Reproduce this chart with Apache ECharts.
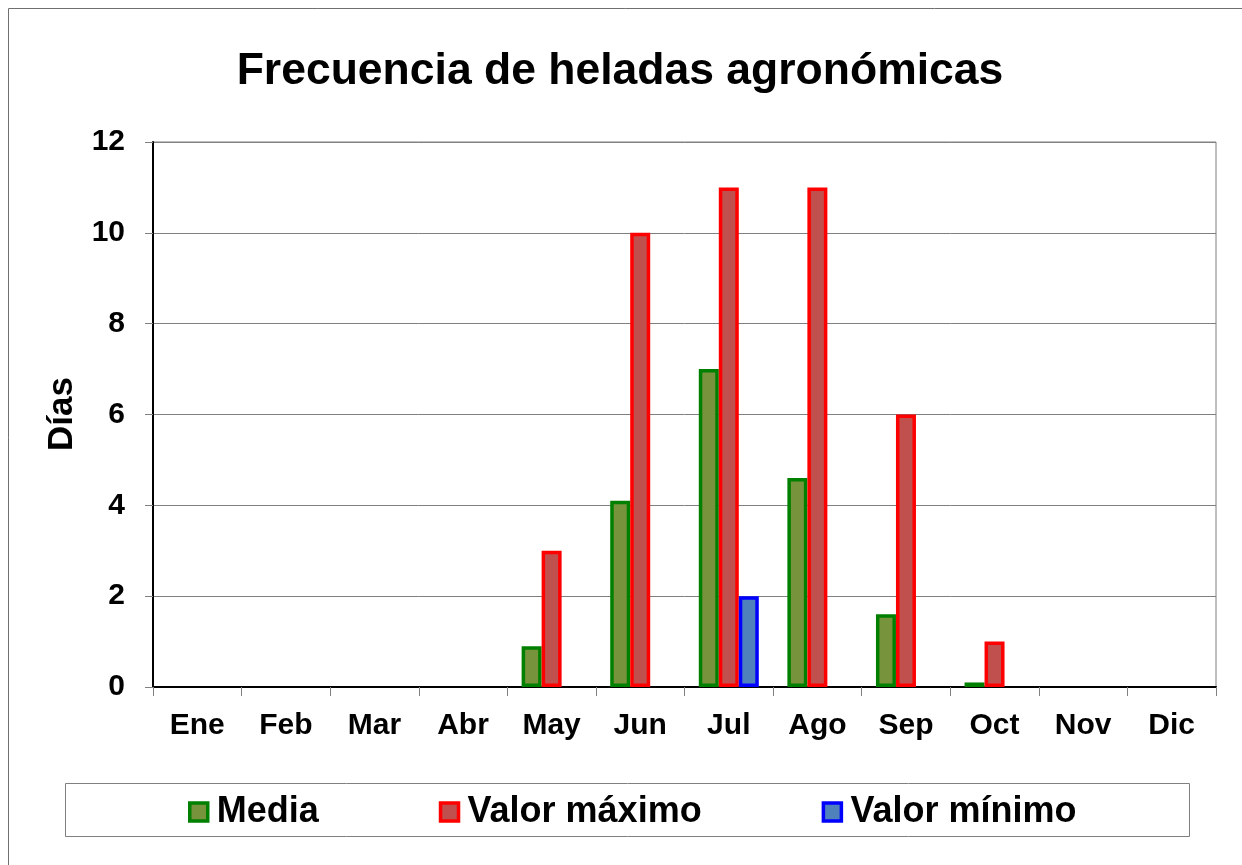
<!DOCTYPE html>
<html>
<head>
<meta charset="utf-8">
<script src="https://cdn.jsdelivr.net/npm/echarts@6/dist/echarts.min.js"></script>
<style>
html,body{margin:0;padding:0;background:#fff;}
#chart{width:1242px;height:865px;}
</style>
</head>
<body>
<div id="chart"></div>
<script>
const months = ['Ene','Feb','Mar','Abr','May','Jun','Jul','Ago','Sep','Oct','Nov','Dic'];
const media  = [0, 0, 0, 0, 0.9, 4.1, 7.0, 4.6, 1.6, 0.1, 0, 0];
const maximo = [0, 0, 0, 0, 3, 10, 11, 11, 6, 1, 0, 0];
const minimo = [0, 0, 0, 0, 0, 0, 2, 0, 0, 0, 0, 0];
const seriesNames = ['Media', 'Valor máximo', 'Valor mínimo'];
const yTicks = [0, 2, 4, 6, 8, 10, 12];

const FONT = '"Liberation Sans", Arial, sans-serif';
const hideZero = arr => arr.map(v => (v === 0 ? null : v));

const chart = echarts.init(document.getElementById('chart'), null, {renderer: 'canvas'});

function barSeries(name, data, fill, stroke) {
  return {
    name: name,
    type: 'bar',
    data: hideZero(data),
    barWidth: 20,
    barGap: '0%',
    itemStyle: {color: fill, borderColor: stroke, borderWidth: 3.5},
    emphasis: {disabled: true},
    animation: false
  };
}

chart.setOption({
  backgroundColor: '#ffffff',
  animation: false,
  title: {
    text: 'Frecuencia de heladas agronómicas',
    left: 615, top: 44, textAlign: 'center',
    textStyle: {fontFamily: FONT, fontSize: 44.5, fontWeight: 'bold', color: '#000'}
  },
  graphic: [
    {type: 'rect', shape: {x: 8.5, y: 8.5, width: 1400, height: 1000},
     style: {fill: 'none', stroke: '#707070', lineWidth: 1}, z: -10, silent: true},
    {type: 'rect', shape: {x: 65.5, y: 783.5, width: 1124, height: 53},
     style: {fill: '#fff', stroke: '#808080', lineWidth: 1}, z: -5, silent: true},
    {type: 'text', x: 62, y: 414, rotation: Math.PI / 2,
     style: {text: 'Días', fontFamily: FONT, fontSize: 35, fontWeight: 'bold', fill: '#000',
             align: 'center', verticalAlign: 'middle'}, silent: true}
  ],
  legend: {
    left: 188, top: 794, padding: 0,
    itemWidth: 18, itemHeight: 18, itemGap: 120,
    icon: 'rect',
    data: seriesNames.map(n => ({name: n, itemStyle: {borderWidth: 3.5}})),
    textStyle: {fontFamily: FONT, fontSize: 36, fontWeight: 'bold', color: '#000', padding: [0, 0, 0, 4]},
    selectedMode: false
  },
  grid: {left: 153, right: 26, top: 142, bottom: 178, show: true, borderColor: '#808080', borderWidth: 1, containLabel: false},
  xAxis: {
    type: 'category',
    data: months,
    boundaryGap: true,
    axisLine: {show: true, lineStyle: {color: '#000', width: 2}},
    axisTick: {show: true, alignWithLabel: false, length: 9, lineStyle: {color: '#808080', width: 1}},
    axisLabel: {fontFamily: FONT, fontSize: 30, fontWeight: 'bold', color: '#000', margin: 24, interval: 0},
    splitLine: {show: false}
  },
  yAxis: {
    type: 'value',
    min: yTicks[0], max: yTicks[yTicks.length - 1], interval: 2,
    axisLine: {show: true, lineStyle: {color: '#000', width: 2}},
    axisTick: {show: true, length: 8, lineStyle: {color: '#808080', width: 1}},
    axisLabel: {fontFamily: FONT, fontSize: 30, fontWeight: 'bold', color: '#000', margin: 28},
    splitLine: {show: true, lineStyle: {color: '#808080', width: 1}}
  },
  series: [
    barSeries(seriesNames[0], media, '#77933C', '#008000'),
    barSeries(seriesNames[1], maximo, '#C0504D', '#FF0000'),
    barSeries(seriesNames[2], minimo, '#4F81BD', '#0000FF')
  ]
});
</script>
</body>
</html>
